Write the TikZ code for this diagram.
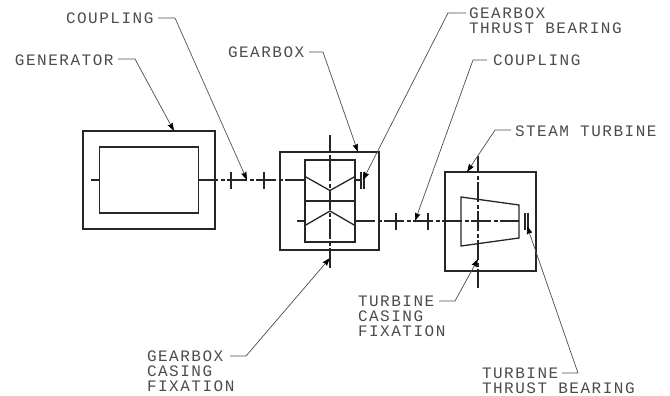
\documentclass[tikz,border=0pt]{standalone}
\usepackage{fontspec}
\setmonofont[LetterSpace=9.5]{Liberation Mono}
\usetikzlibrary{arrows.meta}
\definecolor{cadline}{gray}{0.15}
\definecolor{cadtext}{gray}{0.3}
\tikzset{
  x=1pt,y=-1pt,
  part/.style={draw=cadline,line width=1.3pt,fill=none,inner sep=0pt,outer sep=0pt},
  solidline/.style={draw=cadline,line width=1.3pt},
  centerline/.style={draw=cadline,line width=1.3pt,dash pattern=on 20pt off 2.5pt on 4pt off 2.5pt},
  tick/.style={draw=cadline,line width=1.3pt},
  leader/.style={draw=cadtext,line width=0.7pt,-{Stealth[length=8pt,width=5.5pt,inset=0.8pt,color=black]},line join=round},
  label/.style={text=cadtext,font=\fontsize{16}{15}\selectfont\ttfamily,align=left,anchor=north west,inner sep=0pt,outer sep=0pt},
}
\begin{document}
\begin{tikzpicture}
\useasboundingbox (0,0) rectangle (670,396);
% casings
\node[part,minimum width=132pt,minimum height=98pt] (gencase) at (149,180) {};
\node[part,minimum width=98.5pt,minimum height=66pt] (gen) at (149,180) {};
\node[part,minimum width=99pt,minimum height=98pt] (gbcase) at (329.5,201) {};
\node[part,minimum width=50pt,minimum height=82pt] (gb) at (330,201) {};
\node[part,minimum width=91pt,minimum height=99pt] (tcase) at (490.5,221.5) {};
% gearbox
\coordinate (gbmidL) at (305,201);
\coordinate (gbmidR) at (355,201);
\draw[solidline] (gbmidL) -- (gbmidR);
\draw[solidline] (305,176.5) -- (330,190.5) -- (355,176.5);
\draw[solidline] (305,225.5) -- (330,211) -- (355,225.5);
% turbine cone
\draw[solidline] (461,197) coordinate (coneA) -- (519,205) -- (519,238) -- (461,246) -- cycle;
% shafts
\coordinate (genstub) at (91,180);
\draw[solidline] (genstub) -- (gen.west);
\draw[centerline] (gen.east) -- (305,180);
\coordinate (gbstub) at (297,221);
\draw[solidline] (gbstub) -- (305,221);
\draw[centerline] (355,221) -- (519,221);
\draw[solidline] (355,180) -- (361,180);
\coordinate (gbtop) at (330,135);
\coordinate (gbbot) at (330,268);
\draw[centerline,dash phase=3pt] (gbtop) -- (gbbot);
\coordinate (ttop) at (478,156);
\coordinate (tbot) at (478,288);
\draw[centerline,dash phase=3pt] (ttop) -- (tbot);
% coupling and bearing ticks
\draw[tick] (231,172) -- (231,189);
\draw[tick] (264,172) -- (264,189);
\draw[tick] (361,172) -- (361,189);
\draw[tick] (364,172) -- (364,189);
\draw[tick] (396,213) -- (396,230);
\draw[tick] (428,213) -- (428,230);
\draw[tick] (525,213) -- (525,230);
\draw[tick] (528,213) -- (528,230);
% labels
\node[label] (lgen) at (15,55) {GENERATOR};
\node[label] (lcp1) at (66,13) {COUPLING};
\node[label] (lgb) at (228,47) {GEARBOX};
\node[label] (lgbtb) at (469,8) {GEARBOX\\THRUST BEARING};
\node[label] (lcp2) at (493,55) {COUPLING};
\node[label] (lst) at (515,126) {STEAM TURBINE};
\node[label] (ltcf) at (358,296) {TURBINE\\CASING\\FIXATION};
\node[label] (lgcf) at (147,351) {GEARBOX\\CASING\\FIXATION};
\node[label] (lttb) at (482,368) {TURBINE\\THRUST BEARING};
% leader end points
\coordinate (s1) at (118,59); \coordinate (k1) at (135,59); \coordinate (e1) at (174,131);
\coordinate (s2) at (158,18); \coordinate (k2) at (175,18); \coordinate (e2) at (247,180);
\coordinate (s3) at (309,52); \coordinate (k3) at (323,52); \coordinate (e3) at (358,152);
\coordinate (s4) at (466,13); \coordinate (k4) at (448,13); \coordinate (e4) at (363,180);
\coordinate (s5) at (487,60); \coordinate (k5) at (473,60); \coordinate (e5) at (415,221);
\coordinate (s6) at (511,130); \coordinate (k6) at (495,130); \coordinate (e6) at (467,172);
\coordinate (s7) at (439,301); \coordinate (k7) at (455,301); \coordinate (e7) at (478,259);
\coordinate (s8) at (230,356); \coordinate (k8) at (246,356); \coordinate (e8) at (330,258);
\coordinate (s9) at (562,373); \coordinate (k9) at (578,373); \coordinate (e9) at (527,226);
\foreach \i in {1,...,9} \draw[leader] (s\i) -- (k\i) -- (e\i);
\end{tikzpicture}
\end{document}
